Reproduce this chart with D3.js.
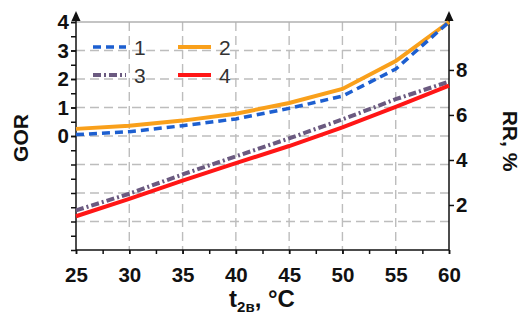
<!DOCTYPE html>
<html>
<head>
<meta charset="utf-8">
<script src="https://cdn.jsdelivr.net/npm/d3@7"></script>
<style>
  body { margin: 0; background: #fff; }
  svg { display: block; font-family: "Liberation Sans", Arial, sans-serif; }
</style>
</head>
<body>
<svg id="chart" width="522" height="320"></svg>
<script>
// data
const temps = [25, 30, 35, 40, 45, 50, 55, 60];
const gor1 = [0.05, 0.15, 0.36, 0.6, 0.97, 1.4, 2.35, 4.0];
const gor2 = [0.25, 0.36, 0.54, 0.78, 1.16, 1.65, 2.63, 4.0];
const rr3 = [1.76, 2.5, 3.36, 4.16, 4.96, 5.8, 6.7, 7.48];
const rr4 = [1.5, 2.27, 3.08, 3.86, 4.62, 5.45, 6.36, 7.3];
const xTicks = [25, 30, 35, 40, 45, 50, 55, 60];
const gorTicks = [0, 1, 2, 3, 4];
const rrTicks = [2, 4, 6, 8];
const legendNames = ['1', '2', '3', '4'];

const svg = d3.select('#chart');

const x = d3.scaleLinear().domain([25, 60]).range([76, 449]);
const yL = d3.scaleLinear().domain([-4, 4]).range([250, 22]);
const yR = d3.scaleLinear().domain([0, 10.13]).range([250, 22]);

// grid
const grid = svg.append('g');
grid.selectAll('line.vg').data(xTicks.slice(1, -1)).join('line').attr('class', 'vg')
  .attr('x1', d => x(d)).attr('x2', d => x(d)).attr('y1', 22).attr('y2', 250);
grid.selectAll('line.hg').data(d3.range(-3, 4)).join('line').attr('class', 'hg')
  .attr('x1', 76).attr('x2', 449).attr('y1', d => yL(d)).attr('y2', d => yL(d));
grid.selectAll('line').attr('stroke', '#bdbdbd').attr('stroke-width', 1.4)
  .attr('stroke-dasharray', '9,5');
svg.append('line').attr('x1', 76).attr('x2', 449).attr('y1', yL(4)).attr('y2', yL(4))
  .attr('stroke', '#b0b0b0').attr('stroke-width', 1.6);

// axes
const axL = svg.append('g').attr('transform', 'translate(76,0)')
  .call(d3.axisLeft(yL).tickValues(d3.range(-4, 4.01, 0.5)).tickSize(5).tickFormat(''));
axL.append('g').call(d3.axisLeft(yL).tickValues(gorTicks).tickSize(5));
const axR = svg.append('g').attr('transform', 'translate(449,0)')
  .call(d3.axisRight(yR).tickValues(rrTicks).tickSize(5));
const axB = svg.append('g').attr('transform', 'translate(0,250)')
  .call(d3.axisBottom(x).tickValues(d3.range(25, 60.1, 2.5)).tickSize(4).tickFormat(''));
axB.append('g').call(d3.axisBottom(x).tickValues(xTicks).tickSize(4));

svg.selectAll('.domain').remove();
svg.selectAll('.tick line').attr('stroke', '#111').attr('stroke-width', 1.5);
svg.selectAll('.tick text').attr('fill', '#111').attr('font-size', 20.5).attr('font-weight', 'bold')
  .attr('font-family', '"Liberation Sans", Arial, sans-serif');
axB.selectAll('.tick text').attr('dy', '1.2em');
axL.selectAll('.tick text').attr('x', -7);
axR.selectAll('.tick text').attr('x', 7);

// axis lines with arrows
[76, 449].forEach(px => {
  svg.append('line').attr('x1', px).attr('x2', px).attr('y1', 250).attr('y2', 21)
    .attr('stroke', '#111').attr('stroke-width', 1.5);
  svg.append('path').attr('d', `M${px - 4.5},21 L${px},11 L${px + 4.5},21 Z`).attr('fill', '#111');
});
svg.append('line').attr('x1', 76).attr('x2', 449).attr('y1', 250).attr('y2', 250)
  .attr('stroke', '#111').attr('stroke-width', 1.5);

// series
const series = [
  { vals: gor1, y: yL, color: '#1d5fd0', dash: '8,5', w: 3.5 },
  { vals: gor2, y: yL, color: '#f9a01b', dash: null, w: 4 },
  { vals: rr3, y: yR, color: '#6b5a80', dash: '8,3,2,3', w: 4 },
  { vals: rr4, y: yR, color: '#ff1616', dash: null, w: 4 }
];
const drawOrder = [1, 0, 2, 3];
drawOrder.forEach(i => {
  const s = series[i];
  svg.append('path').datum(temps.map((t, k) => [t, s.vals[k]]))
    .attr('fill', 'none').attr('stroke', s.color).attr('stroke-width', s.w)
    .attr('stroke-dasharray', s.dash)
    .attr('d', d3.line().x(d => x(d[0])).y(d => s.y(d[1])));
});

// legend
const legPos = [[93, 47], [178, 47], [93, 75], [178, 75]];
legendNames.forEach((name, i) => {
  const [lx, ly] = legPos[i];
  svg.append('line').attr('x1', lx).attr('x2', lx + 33).attr('y1', ly).attr('y2', ly)
    .attr('stroke', series[i].color).attr('stroke-width', series[i].w)
    .attr('stroke-dasharray', series[i].dash);
  svg.append('text').attr('x', lx + 41).attr('y', ly + 7.5).attr('font-size', 21)
    .attr('fill', '#333').text(name);
});

// axis titles
svg.append('text').attr('transform', 'translate(28,138) rotate(-90)')
  .attr('text-anchor', 'middle').attr('font-size', 21).attr('font-weight', 'bold')
  .attr('fill', '#111').text('GOR');
svg.append('text').attr('transform', 'translate(503,141) rotate(90)')
  .attr('text-anchor', 'middle').attr('font-size', 21).attr('font-weight', 'bold')
  .attr('fill', '#111').text('RR, %');
const xt = svg.append('text').attr('x', 262).attr('y', 307).attr('text-anchor', 'middle')
  .attr('font-size', 24).attr('font-weight', 'bold').attr('fill', '#111');
xt.append('tspan').text('t');
xt.append('tspan').attr('font-size', 15).attr('dy', 5).text('2в');
xt.append('tspan').attr('dy', -5).text(', °C');
</script>
</body>
</html>
